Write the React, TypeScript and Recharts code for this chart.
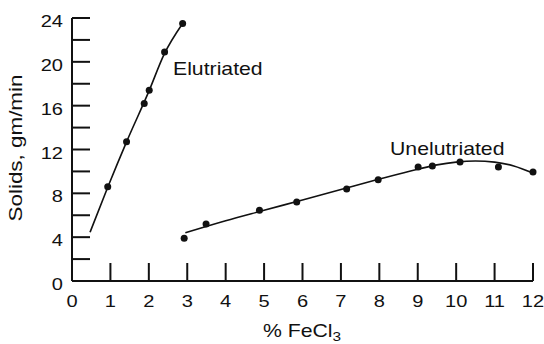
import { ComposedChart, Line, Scatter, XAxis, YAxis } from 'recharts'

const elutX = [0.93, 1.42, 1.88, 2.01, 2.41, 2.88]
const elutY = [8.6, 12.7, 16.2, 17.4, 20.9, 23.5]

const unelutX = [2.92, 3.49, 4.88, 5.85, 7.15, 7.97, 9.01, 9.38, 10.1, 11.1, 12.0]
const unelutY = [3.9, 5.2, 6.45, 7.2, 8.4, 9.25, 10.4, 10.5, 10.85, 10.4, 9.95]

// hand-drawn fit curves
const elutFitX = [0.47, 0.93, 1.42, 2.0, 2.4, 2.88]
const elutFitY = [4.45, 8.55, 12.7, 17.3, 20.7, 23.5]

const unelutFitX = [2.95, 4, 5, 6, 7, 8, 9, 9.5, 10, 10.5, 11, 11.5, 12]
const unelutFitY = [4.4, 5.5, 6.45, 7.4, 8.35, 9.3, 10.2, 10.6, 10.85, 10.95, 10.85, 10.5, 9.85]

const xTicks = [0, 1, 2, 3, 4, 5, 6, 7, 8, 9, 10, 11, 12]
const yTicks = [0, 2, 4, 6, 8, 10, 12, 14, 16, 18, 20, 22, 24]

const zip = (xs: number[], ys: number[]) => xs.map((x, i) => ({ x, y: ys[i] }))

const font = '"Liberation Sans", Arial, sans-serif'
const ink = '#111'
// the original lettering is a slightly stretched Helvetica
const stretch = 1.18

const Txt = ({ x, y, size, anchor = 'start', rotate = false, children }: any) => (
  <text
    transform={`translate(${x},${y})${rotate ? ' rotate(-90)' : ''} scale(${stretch},1)`}
    textAnchor={anchor}
    fontSize={size}
    fontFamily={font}
    fill={ink}
  >
    {children}
  </text>
)

const YTick = (props: any) => {
  const { x, y, payload } = props
  const v = payload.value
  return (
    <g>
      {v !== 0 && <line x1={x} y1={y} x2={x + 18} y2={y} stroke={ink} strokeWidth={2} />}
      {v % 4 === 0 && (
        <Txt x={x - 9} y={y + 9} size={17} anchor="end">
          {v}
        </Txt>
      )}
    </g>
  )
}

const XTick = (props: any) => {
  const { x, y, payload } = props
  const v = payload.value
  return (
    <g>
      {v !== 0 && <line x1={x} y1={y} x2={x} y2={y - 18} stroke={ink} strokeWidth={2} />}
      <Txt x={x} y={y + 26} size={17} anchor="middle">
        {v}
      </Txt>
    </g>
  )
}

const Dot = (props: any) => <circle cx={props.cx} cy={props.cy} r={3.5} fill={ink} />

export default function App() {
  return (
    <div style={{ position: 'absolute', left: 0, top: 0, background: '#fff' }}>
      <ComposedChart width={544} height={344} margin={{ top: 18, right: 11, left: 0, bottom: 0 }}>
        <XAxis
          type="number"
          dataKey="x"
          domain={[0, 12]}
          ticks={xTicks}
          interval={0}
          height={63}
          tickSize={0}
          tickMargin={0}
          tickLine={false}
          tick={<XTick />}
          axisLine={{ stroke: ink, strokeWidth: 2 }}
        />
        <YAxis
          type="number"
          dataKey="y"
          domain={[0, 24]}
          ticks={yTicks}
          interval={0}
          width={72}
          tickSize={0}
          tickMargin={0}
          tickLine={false}
          tick={<YTick />}
          axisLine={{ stroke: ink, strokeWidth: 2 }}
        />
        <Line
          data={zip(elutFitX, elutFitY)}
          dataKey="y"
          type="monotone"
          stroke={ink}
          strokeWidth={1.6}
          dot={false}
          isAnimationActive={false}
        />
        <Line
          data={zip(unelutFitX, unelutFitY)}
          dataKey="y"
          type="monotone"
          stroke={ink}
          strokeWidth={1.6}
          dot={false}
          isAnimationActive={false}
        />
        <Scatter data={zip(elutX, elutY)} dataKey="y" shape={<Dot />} isAnimationActive={false} />
        <Scatter data={zip(unelutX, unelutY)} dataKey="y" shape={<Dot />} isAnimationActive={false} />
        <Txt x={173} y={75} size={18}>
          Elutriated
        </Txt>
        <Txt x={390} y={155} size={18}>
          Unelutriated
        </Txt>
        <Txt x={22} y={148} size={19} anchor="middle" rotate>
          Solids, gm/min
        </Txt>
        <Txt x={263} y={337} size={18}>
          % FeCl
          <tspan fontSize={13} dy={4}>
            3
          </tspan>
        </Txt>
      </ComposedChart>
    </div>
  )
}
